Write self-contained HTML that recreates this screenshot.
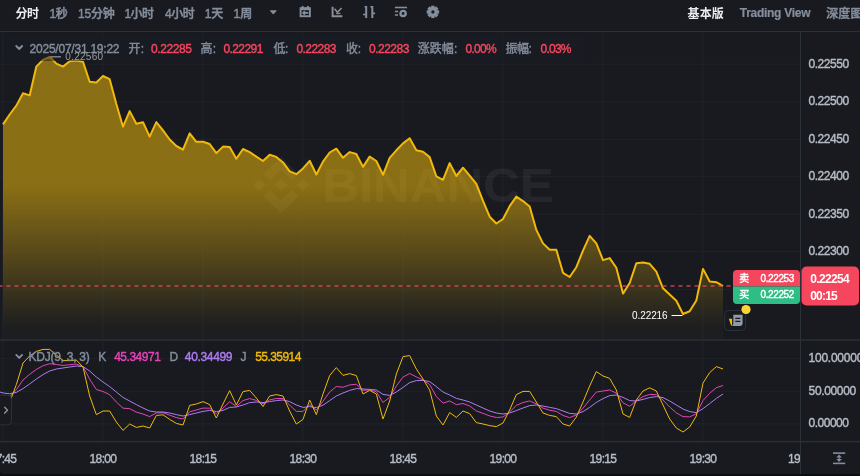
<!DOCTYPE html>
<html lang="zh-CN"><head><meta charset="utf-8"><title>chart</title>
<style>
html,body{margin:0;padding:0;background:#181A20;}
body{width:860px;height:476px;overflow:hidden;position:relative;font-family:"Liberation Sans","Noto Sans CJK SC",sans-serif;}
.t{position:absolute;white-space:nowrap;line-height:20px;height:20px;-webkit-text-stroke:0.4px currentColor;}
.n{-webkit-text-stroke:0;}
.b{-webkit-text-stroke:0.2px currentColor;}
.h{-webkit-text-stroke:0.45px currentColor;}
#axclip{position:absolute;left:0;top:442px;width:800px;height:32px;overflow:hidden;}
#axclip .t{top:6.6px !important;}
</style></head><body>
<svg width="860" height="476" viewBox="0 0 860 476" style="position:absolute;left:0;top:0">
<defs>
<linearGradient id="ag" gradientUnits="userSpaceOnUse" x1="0" y1="327" x2="0" y2="56.8">
<stop offset="0" stop-color="#F0B90B" stop-opacity="0.025"/>
<stop offset="0.52" stop-color="#F0B90B" stop-opacity="0.53"/>
<stop offset="1" stop-color="#F0B90B" stop-opacity="0.53"/>
</linearGradient>
<linearGradient id="ug" gradientUnits="userSpaceOnUse" x1="0" y1="327" x2="0" y2="56.8">
<stop offset="0" stop-color="#181A20" stop-opacity="0"/>
<stop offset="0.52" stop-color="#181A20" stop-opacity="0.85"/>
<stop offset="1" stop-color="#181A20" stop-opacity="0.85"/>
</linearGradient>
<clipPath id="cp"><rect x="0" y="32" width="800" height="410"/></clipPath>
</defs>
<rect x="2.4" y="32" width="1" height="409" fill="#20232A"/>
<rect x="102.4" y="32" width="1" height="409" fill="#20232A"/>
<rect x="202.4" y="32" width="1" height="409" fill="#20232A"/>
<rect x="302.4" y="32" width="1" height="409" fill="#20232A"/>
<rect x="402.4" y="32" width="1" height="409" fill="#20232A"/>
<rect x="502.4" y="32" width="1" height="409" fill="#20232A"/>
<rect x="602.4" y="32" width="1" height="409" fill="#20232A"/>
<rect x="702.4" y="32" width="1" height="409" fill="#20232A"/>
<rect x="0" y="63.75" width="800" height="1" fill="#20232A"/>
<rect x="0" y="101.25" width="800" height="1" fill="#20232A"/>
<rect x="0" y="138.75" width="800" height="1" fill="#20232A"/>
<rect x="0" y="176.25" width="800" height="1" fill="#20232A"/>
<rect x="0" y="213.75" width="800" height="1" fill="#20232A"/>
<rect x="0" y="251.25" width="800" height="1" fill="#20232A"/>
<rect x="0" y="288.75" width="800" height="1" fill="#20232A"/>
<rect x="0" y="358.2" width="800" height="1" fill="#20232A"/>
<rect x="0" y="390.8" width="800" height="1" fill="#20232A"/>
<rect x="0" y="423.4" width="800" height="1" fill="#20232A"/>
<polygon points="3.00,339.5 3.00,124.40 9.67,114.50 16.33,105.60 23.00,93.20 29.67,95.40 36.33,66.60 43.00,59.80 49.67,56.80 56.33,63.60 63.00,66.60 69.67,61.30 76.33,60.60 83.00,61.80 89.67,81.80 96.33,82.50 103.00,76.00 109.67,79.20 116.33,104.00 123.00,126.70 129.67,111.10 136.33,123.70 143.00,122.20 149.67,136.60 156.33,122.10 163.00,130.40 169.67,139.50 176.33,146.00 183.00,149.60 189.67,133.40 196.33,141.80 203.00,141.80 209.67,144.00 216.33,153.10 223.00,146.60 229.67,147.10 236.33,158.70 243.00,149.00 249.67,152.10 256.33,156.60 263.00,161.00 269.67,154.70 276.33,156.90 283.00,162.40 289.67,171.40 296.33,174.20 303.00,168.40 309.67,160.80 316.33,174.50 323.00,161.60 329.67,152.50 336.33,148.70 343.00,157.80 349.67,152.10 356.33,154.00 363.00,166.90 369.67,156.60 376.33,161.00 383.00,174.80 389.67,157.80 396.33,150.30 403.00,143.40 409.67,138.20 416.33,150.30 423.00,151.80 429.67,157.10 436.33,176.30 443.00,179.80 449.67,163.10 456.33,176.00 463.00,167.70 469.67,175.60 476.33,183.90 483.00,200.80 489.67,216.70 496.33,223.50 503.00,219.00 509.67,206.10 516.33,196.60 523.00,201.10 529.67,206.60 536.33,229.90 543.00,243.40 549.67,249.80 556.33,249.80 563.00,272.80 569.67,277.00 576.33,267.20 583.00,250.60 589.67,235.90 596.33,243.40 603.00,260.10 609.67,258.10 616.33,267.80 623.00,293.60 629.67,283.00 636.33,263.30 643.00,262.60 649.67,263.80 656.33,271.60 663.00,288.30 669.67,294.60 676.33,300.70 683.00,314.00 689.67,311.30 696.33,300.40 703.00,268.90 709.67,281.50 716.33,282.20 723.00,286.00 723.00,339.5" fill="url(#ug)"/>
<g id="wm" fill="#ffffff" opacity="0.05">
<g transform="translate(281,185) scale(0.2833)">
<path d="M-38.5,-16.5 L0,-55 L38.5,-16.5 L61,-39 L0,-100 L-61,-39 Z"/>
<path d="M-100,0 L-77.500,-22.500 L-55,0 L-77.500,22.500 Z"/>
<path d="M-38.5,16.5 L0,55 L38.5,16.5 L61,39 L0,100 L-61,39 Z"/>
<path d="M55,0 L77.500,-22.500 L100,0 L77.500,22.500 Z"/>
<path d="M22.500,0 L0,-22.500 L-16.700,-5.800 L-18.600,-3.900 L-22.500,0 L0,22.500 Z"/>
</g>
<text x="322.2" y="202.4" font-family="'Liberation Sans',sans-serif" font-weight="700" font-size="47.2" textLength="231.5" lengthAdjust="spacingAndGlyphs">BINANCE</text>
</g>
<polygon points="3.00,339.5 3.00,124.40 9.67,114.50 16.33,105.60 23.00,93.20 29.67,95.40 36.33,66.60 43.00,59.80 49.67,56.80 56.33,63.60 63.00,66.60 69.67,61.30 76.33,60.60 83.00,61.80 89.67,81.80 96.33,82.50 103.00,76.00 109.67,79.20 116.33,104.00 123.00,126.70 129.67,111.10 136.33,123.70 143.00,122.20 149.67,136.60 156.33,122.10 163.00,130.40 169.67,139.50 176.33,146.00 183.00,149.60 189.67,133.40 196.33,141.80 203.00,141.80 209.67,144.00 216.33,153.10 223.00,146.60 229.67,147.10 236.33,158.70 243.00,149.00 249.67,152.10 256.33,156.60 263.00,161.00 269.67,154.70 276.33,156.90 283.00,162.40 289.67,171.40 296.33,174.20 303.00,168.40 309.67,160.80 316.33,174.50 323.00,161.60 329.67,152.50 336.33,148.70 343.00,157.80 349.67,152.10 356.33,154.00 363.00,166.90 369.67,156.60 376.33,161.00 383.00,174.80 389.67,157.80 396.33,150.30 403.00,143.40 409.67,138.20 416.33,150.30 423.00,151.80 429.67,157.10 436.33,176.30 443.00,179.80 449.67,163.10 456.33,176.00 463.00,167.70 469.67,175.60 476.33,183.90 483.00,200.80 489.67,216.70 496.33,223.50 503.00,219.00 509.67,206.10 516.33,196.60 523.00,201.10 529.67,206.60 536.33,229.90 543.00,243.40 549.67,249.80 556.33,249.80 563.00,272.80 569.67,277.00 576.33,267.20 583.00,250.60 589.67,235.90 596.33,243.40 603.00,260.10 609.67,258.10 616.33,267.80 623.00,293.60 629.67,283.00 636.33,263.30 643.00,262.60 649.67,263.80 656.33,271.60 663.00,288.30 669.67,294.60 676.33,300.70 683.00,314.00 689.67,311.30 696.33,300.40 703.00,268.90 709.67,281.50 716.33,282.20 723.00,286.00 723.00,339.5" fill="url(#ag)"/>
<polyline points="3.00,124.40 9.67,114.50 16.33,105.60 23.00,93.20 29.67,95.40 36.33,66.60 43.00,59.80 49.67,56.80 56.33,63.60 63.00,66.60 69.67,61.30 76.33,60.60 83.00,61.80 89.67,81.80 96.33,82.50 103.00,76.00 109.67,79.20 116.33,104.00 123.00,126.70 129.67,111.10 136.33,123.70 143.00,122.20 149.67,136.60 156.33,122.10 163.00,130.40 169.67,139.50 176.33,146.00 183.00,149.60 189.67,133.40 196.33,141.80 203.00,141.80 209.67,144.00 216.33,153.10 223.00,146.60 229.67,147.10 236.33,158.70 243.00,149.00 249.67,152.10 256.33,156.60 263.00,161.00 269.67,154.70 276.33,156.90 283.00,162.40 289.67,171.40 296.33,174.20 303.00,168.40 309.67,160.80 316.33,174.50 323.00,161.60 329.67,152.50 336.33,148.70 343.00,157.80 349.67,152.10 356.33,154.00 363.00,166.90 369.67,156.60 376.33,161.00 383.00,174.80 389.67,157.80 396.33,150.30 403.00,143.40 409.67,138.20 416.33,150.30 423.00,151.80 429.67,157.10 436.33,176.30 443.00,179.80 449.67,163.10 456.33,176.00 463.00,167.70 469.67,175.60 476.33,183.90 483.00,200.80 489.67,216.70 496.33,223.50 503.00,219.00 509.67,206.10 516.33,196.60 523.00,201.10 529.67,206.60 536.33,229.90 543.00,243.40 549.67,249.80 556.33,249.80 563.00,272.80 569.67,277.00 576.33,267.20 583.00,250.60 589.67,235.90 596.33,243.40 603.00,260.10 609.67,258.10 616.33,267.80 623.00,293.60 629.67,283.00 636.33,263.30 643.00,262.60 649.67,263.80 656.33,271.60 663.00,288.30 669.67,294.60 676.33,300.70 683.00,314.00 689.67,311.30 696.33,300.40 703.00,268.90 709.67,281.50 716.33,282.20 723.00,286.00" fill="none" stroke="#F0B90B" stroke-width="2" stroke-linejoin="round" stroke-linecap="butt"/>
<line x1="-1.5" y1="286" x2="730.5" y2="286" stroke="#F6465D" stroke-opacity="0.8" stroke-width="1.6" stroke-dasharray="4 4"/>
<rect x="0" y="31" width="860" height="1" fill="#2B3139"/>
<rect x="0" y="339" width="860" height="2" fill="#252A32"/>
<rect x="0" y="440.9" width="860" height="1.4" fill="#2A2F38"/>
<rect x="800" y="32" width="1" height="442" fill="#2B3139"/>
<g clip-path="url(#cp)" fill="none" stroke-width="1" stroke-linejoin="round">
<polyline points="-3.67,395.60 3.00,396.00 9.67,396.60 16.33,389.80 23.00,380.03 29.67,374.33 36.33,369.40 43.00,365.80 49.67,363.70 56.33,364.47 63.00,365.47 69.67,364.73 76.33,364.00 83.00,366.67 89.67,379.17 96.33,389.47 103.00,391.53 109.67,394.67 116.33,402.00 123.00,408.20 129.67,408.63 136.33,412.10 143.00,414.00 149.67,416.63 156.33,412.87 163.00,412.72 169.67,415.17 176.33,417.57 183.00,419.00 189.67,411.77 196.33,410.00 203.00,408.07 209.67,408.23 216.33,413.87 223.00,408.13 229.67,401.70 236.33,406.47 243.00,400.57 249.67,398.57 256.33,400.33 263.00,403.97 269.67,399.87 276.33,398.50 283.00,398.53 289.67,405.07 296.33,411.37 303.00,411.40 309.67,404.70 316.33,409.97 323.00,401.33 329.67,391.97 336.33,386.47 343.00,387.27 349.67,384.90 356.33,384.23 363.00,390.33 369.67,389.87 376.33,391.67 383.00,402.50 389.67,397.33 396.33,386.00 403.00,377.07 409.67,373.50 416.33,376.87 423.00,379.97 429.67,384.50 436.33,396.50 443.00,403.20 449.67,400.93 456.33,404.67 463.00,403.53 469.67,405.93 476.33,410.93 483.00,413.37 489.67,415.93 496.33,417.47 503.00,417.00 509.67,412.00 516.33,405.43 523.00,402.53 529.67,400.93 536.33,403.80 543.00,408.17 549.67,410.23 556.33,411.43 563.00,415.47 569.67,417.60 576.33,415.00 583.00,408.20 589.67,399.93 596.33,392.07 603.00,391.03 609.67,389.93 616.33,393.17 623.00,402.77 629.67,406.30 636.33,400.83 643.00,396.60 649.67,394.42 656.33,394.67 663.00,400.03 669.67,407.00 676.33,412.83 683.00,416.63 689.67,416.87 696.33,413.87 703.00,400.53 709.67,393.33 716.33,387.70 723.00,385.53" stroke="#E544B8"/>
<polyline points="-3.67,390.80 3.00,393.00 9.67,393.70 16.33,392.40 23.00,388.60 29.67,384.00 36.33,379.00 43.00,374.60 49.67,371.00 56.33,369.00 63.00,368.00 69.67,367.00 76.33,366.00 83.00,366.60 89.67,371.00 96.33,377.00 103.00,382.00 109.67,386.60 116.33,392.00 123.00,397.40 129.67,401.00 136.33,404.60 143.00,408.00 149.67,411.00 156.33,412.00 163.00,412.00 169.67,413.00 176.33,414.60 183.00,416.00 189.67,414.60 196.33,413.00 203.00,411.40 209.67,410.40 216.33,411.60 223.00,410.40 229.67,407.40 236.33,407.00 243.00,405.00 249.67,402.60 256.33,402.00 263.00,402.60 269.67,401.60 276.33,400.60 283.00,400.00 289.67,401.60 296.33,405.00 303.00,407.40 309.67,406.60 316.33,407.60 323.00,405.20 329.67,400.60 336.33,396.00 343.00,393.00 349.67,390.40 356.33,388.60 363.00,389.00 369.67,389.40 376.33,390.00 383.00,394.40 389.67,395.40 396.33,392.00 403.00,387.40 409.67,382.60 416.33,380.60 423.00,380.40 429.67,381.60 436.33,386.60 443.00,392.00 449.67,395.00 456.33,398.40 463.00,400.00 469.67,402.00 476.33,405.00 483.00,408.00 489.67,411.00 496.33,413.00 503.00,414.00 509.67,413.00 516.33,410.60 523.00,408.00 529.67,405.60 536.33,405.00 543.00,406.00 549.67,407.40 556.33,408.60 563.00,411.00 569.67,413.40 576.33,414.00 583.00,411.60 589.67,407.40 596.33,402.40 603.00,398.60 609.67,395.60 616.33,395.00 623.00,397.40 629.67,400.60 636.33,401.00 643.00,399.40 649.67,397.60 656.33,396.60 663.00,397.60 669.67,401.00 676.33,405.00 683.00,409.00 689.67,411.60 696.33,412.60 703.00,408.60 709.67,403.60 716.33,398.40 723.00,394.00" stroke="#AD7DF3"/>
<polyline points="-3.67,405.00 3.00,402.00 9.67,402.50 16.33,384.60 23.00,363.00 29.67,356.00 36.33,351.40 43.00,349.40 49.67,349.40 56.33,355.00 63.00,360.60 69.67,360.60 76.33,360.00 83.00,367.00 89.67,396.00 96.33,414.60 103.00,411.00 109.67,411.00 116.33,422.00 123.00,430.40 129.67,424.00 136.33,427.40 143.00,426.00 149.67,428.00 156.33,415.40 163.00,414.80 169.67,419.40 176.33,423.40 183.00,425.00 189.67,405.40 196.33,404.00 203.00,401.60 209.67,404.60 216.33,418.00 223.00,404.00 229.67,390.60 236.33,405.00 243.00,391.60 249.67,390.40 256.33,398.00 263.00,406.60 269.67,396.00 276.33,394.60 283.00,396.00 289.67,411.00 296.33,424.00 303.00,419.40 309.67,400.00 316.33,414.60 323.00,394.00 329.67,375.50 336.33,367.60 343.00,375.40 349.67,373.60 356.33,375.60 363.00,394.00 369.67,390.40 376.33,394.00 383.00,419.00 389.67,401.00 396.33,374.00 403.00,356.60 409.67,355.60 416.33,369.00 423.00,379.00 429.67,390.00 436.33,416.00 443.00,425.00 449.67,412.60 456.33,417.40 463.00,411.00 469.67,413.60 476.33,422.60 483.00,424.00 489.67,425.60 496.33,426.60 503.00,423.00 509.67,410.00 516.33,394.60 523.00,391.40 529.67,391.40 536.33,402.00 543.00,413.00 549.67,415.40 556.33,416.60 563.00,424.00 569.67,426.00 576.33,417.00 583.00,402.00 589.67,386.00 596.33,371.60 603.00,376.00 609.67,378.40 616.33,390.00 623.00,414.00 629.67,417.40 636.33,400.00 643.00,391.00 649.67,387.80 656.33,391.00 663.00,405.00 669.67,419.00 676.33,428.00 683.00,432.00 689.67,427.00 696.33,416.00 703.00,383.00 709.67,372.60 716.33,366.60 723.00,369.00" stroke="#F0B90B"/>
</g>
<line x1="50.5" y1="56.8" x2="61" y2="56.8" stroke="#ffffff" stroke-width="1.3"/>
<rect x="6.4" y="34.6" width="578" height="26.4" fill="#1A1C23" fill-opacity="0.5"/>
<line x1="671.5" y1="315.5" x2="682.5" y2="315.5" stroke="#ffffff" stroke-width="1"/>
<rect x="-4.5" y="395.2" width="16" height="29.6" rx="4" fill="#181A20" stroke="#2B3139"/>
<path d="M4.7,407.3 L7.5,410.2 L4.7,413.1" fill="none" stroke="#848E9C" stroke-width="1.5" stroke-linecap="round" stroke-linejoin="round"/>
<path d="M733,286.5 V274 a4,4 0 0 1 4,-4 H796 a4,4 0 0 1 4,4 V286.5 Z" fill="#F6465D"/>
<path d="M733,286.5 V300 a4,4 0 0 0 4,4 H796 a4,4 0 0 0 4,-4 V286.5 Z" fill="#2EBD85"/>
<rect x="801.5" y="266.5" width="57.5" height="39" rx="5" fill="#F6465D"/>
<rect x="724.5" y="310.5" width="21" height="20" rx="4" fill="#181A20" stroke="#2B3139"/>
<path d="M733.3,314.7 h9.3 v8.9 a2.4,2.4 0 0 1 -2.4,2.4 h-8.1 q1.2,-0.9 1.2,-2.4 Z" fill="#9199A6"/>
<path d="M735.3,318.4 h5 M735.3,321.4 h5" stroke="#181A20" stroke-width="1.4"/>
<path d="M728.8,318.8 h3.3 v6.6 h-1 Z" fill="#F0B90B"/>
<circle cx="746" cy="309.5" r="4.6" fill="#FCD535"/>
<path d="M16.3,46.0 L19.2,49.0 L22.1,46.0" fill="none" stroke="#848E9C" stroke-width="1.9" stroke-linecap="round" stroke-linejoin="round"/>
<path d="M16.3,354.9 L19.2,357.9 L22.1,354.9" fill="none" stroke="#848E9C" stroke-width="1.9" stroke-linecap="round" stroke-linejoin="round"/>
<path d="M270.3,10.2 h6 q0.6,0.3 0.2,0.9 l-2.7,3 q-0.5,0.4 -1,0 l-2.7,-3 q-0.4,-0.6 0.2,-0.9 Z" fill="#848E9C"/>
<g fill="none" stroke="#848E9C" stroke-width="1.9">
<rect x="300.6" y="8.2" width="9.3" height="8.0"/>
<path d="M300.6,8.9 h9.3" stroke-width="2.6"/>
<path d="M302.6,6 v2 M307.9,6 v2" stroke-width="1.8"/>
<path d="M303.2,12.9 h5.2 M304.9,11.2 l-1.9,1.7 l1.9,1.7" stroke-width="1.6"/>
</g>
<g fill="none" stroke="#848E9C" stroke-width="2">
<path d="M332.6,6.7 V16.2 H342.4"/>
<path d="M334.6,8.8 l2.8,3.4 l4.2,-4.2" stroke-width="1.6"/>
<path d="M336.2,13.5 h4.2" stroke-width="1.3"/>
</g>
<g fill="none" stroke="#848E9C" stroke-width="2">
<path d="M366.2,5.9 V18 M372.3,5.9 V18"/>
<path d="M363,14.5 h3.2 M364.6,6.7 h1.6 M370.4,6.7 h1.9 M372.3,13.4 h2.8" stroke-width="1.6"/>
</g>
<g fill="none" stroke="#848E9C" stroke-width="1.6">
<path d="M394.9,7.5 H407"/>
<path d="M394.9,11.6 h3.2 M394.9,15 h3.2" stroke-width="1.5"/>
<circle cx="403.1" cy="13.5" r="2.6" stroke-width="2.4"/>
</g>
<g transform="translate(432.9,11.9)" fill="#848E9C"><path fill-rule="evenodd" d="M0,-4.8 A4.8,4.8 0 1 1 0,4.8 A4.8,4.8 0 1 1 0,-4.8 Z M0,-1.7 A1.7,1.7 0 1 0 0,1.7 A1.7,1.7 0 1 0 0,-1.7 Z"/><rect x="-1.7" y="-6.2" width="3.4" height="3.4" transform="rotate(0)"/><rect x="-1.7" y="-6.2" width="3.4" height="3.4" transform="rotate(45)"/><rect x="-1.7" y="-6.2" width="3.4" height="3.4" transform="rotate(90)"/><rect x="-1.7" y="-6.2" width="3.4" height="3.4" transform="rotate(135)"/><rect x="-1.7" y="-6.2" width="3.4" height="3.4" transform="rotate(180)"/><rect x="-1.7" y="-6.2" width="3.4" height="3.4" transform="rotate(225)"/><rect x="-1.7" y="-6.2" width="3.4" height="3.4" transform="rotate(270)"/><rect x="-1.7" y="-6.2" width="3.4" height="3.4" transform="rotate(315)"/></g>
<g fill="#848E9C" stroke="none">
<rect x="833" y="452.3" width="12.2" height="1.6"/>
<rect x="833" y="462.6" width="12.2" height="1.6"/>
<rect x="838.5" y="456" width="1.2" height="5"/>
<path d="M839.1,454.6 l2.8,2.9 h-5.6 Z"/>
<path d="M839.1,462 l2.8,-2.9 h-5.6 Z"/>
</g>
<path d="M0,470 Q0,474 4,474 H860 V476 H0 Z" fill="#0B0E11"/>
</svg>
<div id="txt">
<span class="t n" id="tb0" style="left:15.60px;top:3.8px;font-size:12px;color:#EAECEF;font-weight:700;letter-spacing:-0.500px;">分时</span>
<span class="t h" id="tb1" style="left:49.60px;top:3.8px;font-size:12px;color:#848E9C;font-weight:500;letter-spacing:-0.500px;">1秒</span>
<span class="t h" id="tb2" style="left:78.00px;top:3.8px;font-size:12px;color:#848E9C;font-weight:500;letter-spacing:-0.233px;">15分钟</span>
<span class="t h" id="tb3" style="left:124.40px;top:3.8px;font-size:12px;color:#848E9C;font-weight:500;letter-spacing:-0.500px;">1小时</span>
<span class="t h" id="tb4" style="left:165.00px;top:3.8px;font-size:12px;color:#848E9C;font-weight:500;letter-spacing:-0.500px;">4小时</span>
<span class="t h" id="tb5" style="left:204.80px;top:3.8px;font-size:12px;color:#848E9C;font-weight:500;letter-spacing:-0.100px;">1天</span>
<span class="t h" id="tb6" style="left:233.60px;top:3.8px;font-size:12px;color:#848E9C;font-weight:500;letter-spacing:0.100px;">1周</span>
<span class="t n" id="tb7" style="left:687.60px;top:3.8px;font-size:12px;color:#EAECEF;font-weight:700;letter-spacing:0.050px;">基本版</span>
<span class="t b" id="tb8" style="left:739.80px;top:2.8px;font-size:12px;color:#848E9C;font-weight:700;letter-spacing:-0.281px;">Trading View</span>
<span class="t h" id="tb9" style="left:826.20px;top:3.8px;font-size:12px;color:#848E9C;font-weight:500;letter-spacing:0.150px;">深度图</span>
<span class="t" id="lg0" style="left:29.60px;top:38.6px;font-size:12px;color:#848E9C;font-weight:400;letter-spacing:-0.233px;">2025/07/31 19:22</span>
<span class="t" id="lg1" style="left:128.40px;top:38.6px;font-size:12px;color:#848E9C;font-weight:400;letter-spacing:0.300px;">开:</span>
<span class="t" id="lg2" style="left:151.00px;top:38.6px;font-size:12px;color:#F6465D;font-weight:400;letter-spacing:-0.417px;">0.22285</span>
<span class="t" id="lg3" style="left:200.60px;top:38.6px;font-size:12px;color:#848E9C;font-weight:400;letter-spacing:0.100px;">高:</span>
<span class="t" id="lg4" style="left:223.40px;top:38.6px;font-size:12px;color:#F6465D;font-weight:400;letter-spacing:-0.566px;">0.22291</span>
<span class="t" id="lg5" style="left:273.60px;top:38.6px;font-size:12px;color:#848E9C;font-weight:400;letter-spacing:-0.500px;">低:</span>
<span class="t" id="lg6" style="left:296.40px;top:38.6px;font-size:12px;color:#F6465D;font-weight:400;letter-spacing:-0.548px;">0.22283</span>
<span class="t" id="lg7" style="left:346.00px;top:38.6px;font-size:12px;color:#848E9C;font-weight:400;letter-spacing:-0.200px;">收:</span>
<span class="t" id="lg8" style="left:369.00px;top:38.6px;font-size:12px;color:#F6465D;font-weight:400;letter-spacing:-0.500px;">0.22283</span>
<span class="t" id="lg9" style="left:417.80px;top:38.6px;font-size:12px;color:#848E9C;font-weight:400;letter-spacing:0.034px;">涨跌幅:</span>
<span class="t" id="lg10" style="left:465.60px;top:38.6px;font-size:12px;color:#F6465D;font-weight:400;letter-spacing:-0.750px;">0.00%</span>
<span class="t" id="lg11" style="left:505.40px;top:38.6px;font-size:12px;color:#848E9C;font-weight:400;letter-spacing:-0.450px;">振幅:</span>
<span class="t" id="lg12" style="left:540.60px;top:38.6px;font-size:12px;color:#F6465D;font-weight:400;letter-spacing:-0.775px;">0.03%</span>
<span class="t" id="kd0" style="left:28.60px;top:346.6px;font-size:12px;color:#848E9C;font-weight:400;letter-spacing:-0.265px;">KDJ(9, 3, 3)</span>
<span class="t" id="kd1" style="left:98.20px;top:346.6px;font-size:12px;color:#848E9C;font-weight:400;letter-spacing:0.000px;">K</span>
<span class="t" id="kd2" style="left:114.20px;top:346.6px;font-size:12px;color:#E544B8;font-weight:400;letter-spacing:-0.487px;">45.34971</span>
<span class="t" id="kd3" style="left:169.60px;top:346.6px;font-size:12px;color:#848E9C;font-weight:400;letter-spacing:0.000px;">D</span>
<span class="t" id="kd4" style="left:184.80px;top:346.6px;font-size:12px;color:#AD7DF3;font-weight:400;letter-spacing:-0.330px;">40.34499</span>
<span class="t" id="kd5" style="left:240.60px;top:346.6px;font-size:12px;color:#848E9C;font-weight:400;letter-spacing:0.000px;">J</span>
<span class="t" id="kd6" style="left:255.20px;top:346.6px;font-size:12px;color:#F0B90B;font-weight:400;letter-spacing:-0.557px;">55.35914</span>
<span class="t" id="pa0" style="left:808.40px;top:53.6px;font-size:12px;color:#B7BDC6;font-weight:400;letter-spacing:-0.435px;">0.22550</span>
<span class="t" id="pa1" style="left:808.40px;top:91.0px;font-size:12px;color:#B7BDC6;font-weight:400;letter-spacing:-0.435px;">0.22500</span>
<span class="t" id="pa2" style="left:808.40px;top:128.5px;font-size:12px;color:#B7BDC6;font-weight:400;letter-spacing:-0.435px;">0.22450</span>
<span class="t" id="pa3" style="left:808.40px;top:166.0px;font-size:12px;color:#B7BDC6;font-weight:400;letter-spacing:-0.435px;">0.22400</span>
<span class="t" id="pa4" style="left:808.40px;top:203.5px;font-size:12px;color:#B7BDC6;font-weight:400;letter-spacing:-0.435px;">0.22350</span>
<span class="t" id="pa5" style="left:808.40px;top:241.0px;font-size:12px;color:#B7BDC6;font-weight:400;letter-spacing:-0.435px;">0.22300</span>
<span class="t" id="ka0" style="left:808.60px;top:347.7px;font-size:12px;color:#B7BDC6;font-weight:400;letter-spacing:-0.250px;">100.00000</span>
<span class="t" id="ka1" style="left:808.60px;top:380.5px;font-size:12px;color:#B7BDC6;font-weight:400;letter-spacing:-0.356px;">50.00000</span>
<span class="t" id="ka2" style="left:808.60px;top:412.6px;font-size:12px;color:#B7BDC6;font-weight:400;letter-spacing:-0.500px;">0.00000</span>
<span class="t n" id="pt0" style="left:810.20px;top:269.0px;font-size:12px;color:#FFFFFF;font-weight:700;letter-spacing:-0.650px;">0.22254</span>
<span class="t n" id="pt1" style="left:810.20px;top:285.7px;font-size:12px;color:#FFFFFF;font-weight:700;letter-spacing:-0.800px;">00:15</span>
<span class="t" id="sb0" style="left:739.20px;top:268.6px;font-size:10px;color:#FFFFFF;font-weight:400;letter-spacing:0.000px;">卖</span>
<span class="t" id="sb1" style="left:760.60px;top:268.6px;font-size:10px;color:#FFFFFF;font-weight:400;letter-spacing:-0.417px;">0.22253</span>
<span class="t" id="sb2" style="left:739.20px;top:284.7px;font-size:10px;color:#FFFFFF;font-weight:400;letter-spacing:0.000px;">买</span>
<span class="t" id="sb3" style="left:760.60px;top:284.7px;font-size:10px;color:#FFFFFF;font-weight:400;letter-spacing:-0.417px;">0.22252</span>
<span class="t n" id="hi" style="left:65.20px;top:46.7px;font-size:10px;color:#989A9F;font-weight:400;letter-spacing:0.301px;">0.22560</span>
<span class="t n" id="lo" style="left:632.00px;top:305.5px;font-size:10px;color:#FFFFFF;font-weight:400;letter-spacing:-0.083px;">0.22216</span>
</div>
<div id="axclip">
<span class="t c" id="ta0" style="left:-10.40px;top:448.6px;font-size:12px;color:#B7BDC6;font-weight:400;letter-spacing:-0.650px;">17:45</span>
<span class="t c" id="ta1" style="left:89.60px;top:448.6px;font-size:12px;color:#B7BDC6;font-weight:400;letter-spacing:-0.650px;">18:00</span>
<span class="t c" id="ta2" style="left:189.60px;top:448.6px;font-size:12px;color:#B7BDC6;font-weight:400;letter-spacing:-0.650px;">18:15</span>
<span class="t c" id="ta3" style="left:289.60px;top:448.6px;font-size:12px;color:#B7BDC6;font-weight:400;letter-spacing:-0.650px;">18:30</span>
<span class="t c" id="ta4" style="left:389.60px;top:448.6px;font-size:12px;color:#B7BDC6;font-weight:400;letter-spacing:-0.650px;">18:45</span>
<span class="t c" id="ta5" style="left:489.60px;top:448.6px;font-size:12px;color:#B7BDC6;font-weight:400;letter-spacing:-0.650px;">19:00</span>
<span class="t c" id="ta6" style="left:589.60px;top:448.6px;font-size:12px;color:#B7BDC6;font-weight:400;letter-spacing:-0.650px;">19:15</span>
<span class="t c" id="ta7" style="left:689.60px;top:448.6px;font-size:12px;color:#B7BDC6;font-weight:400;letter-spacing:-0.650px;">19:30</span>
<span class="t c" id="ta8" style="left:788.00px;top:448.6px;font-size:12px;color:#B7BDC6;font-weight:400;letter-spacing:-0.650px;">19:45</span>
</div>
</body></html>
